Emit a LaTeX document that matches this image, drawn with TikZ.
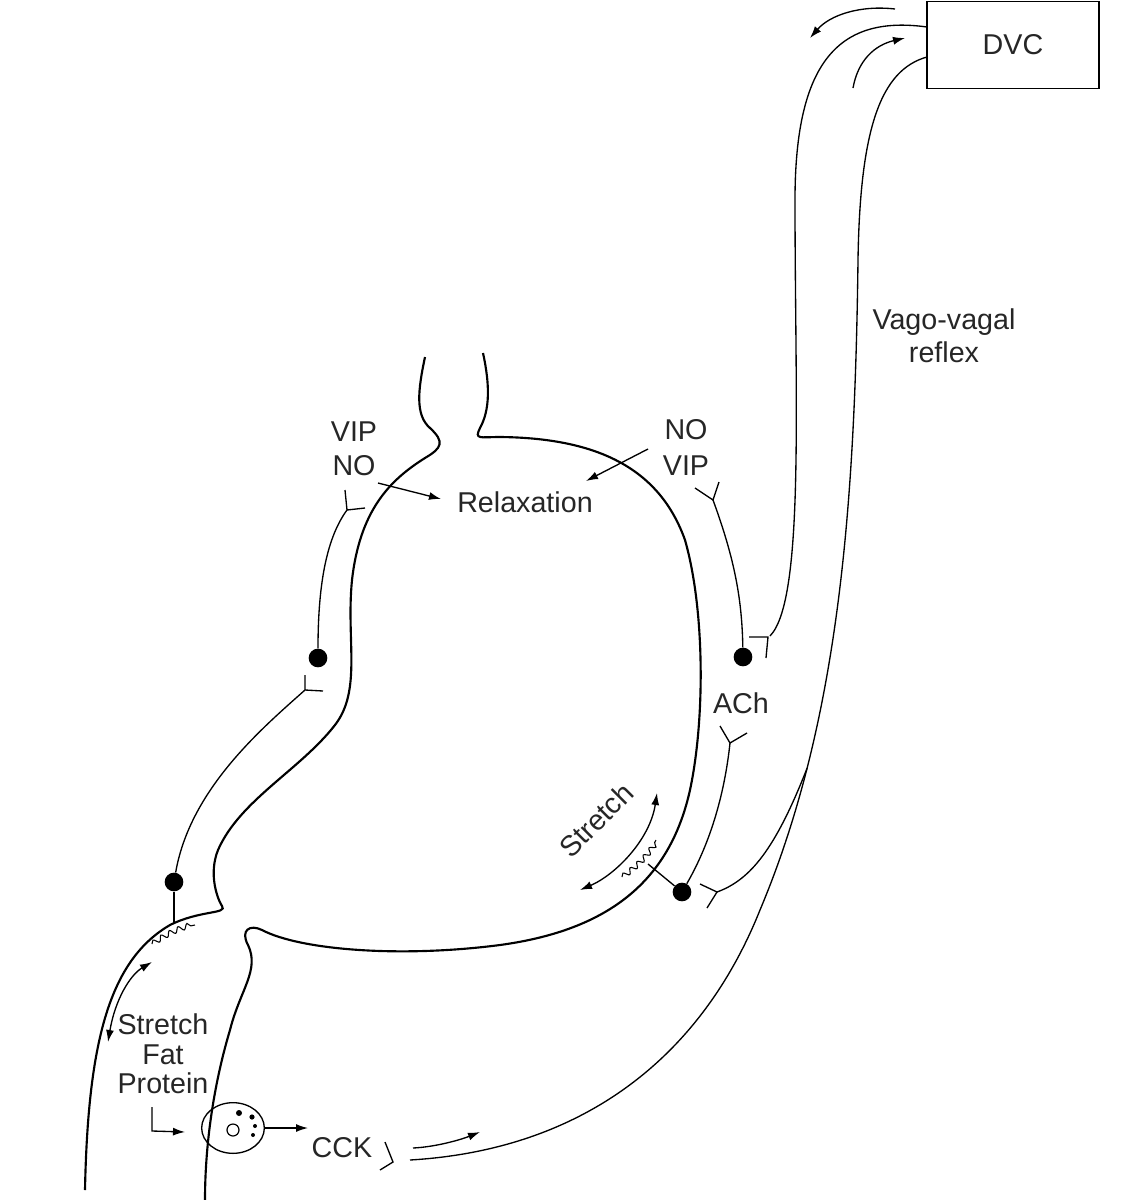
\documentclass[tikz,border=0pt]{standalone}
\usepackage{fontspec}
\setmainfont{Liberation Sans}
\usetikzlibrary{arrows.meta,decorations.pathmorphing,shapes.geometric}
\begin{document}
\begin{tikzpicture}[x=0.75pt,y=-0.75pt,
  wall/.style={line width=1.6pt},
  nerve/.style={line width=1pt},
  arr/.style={line width=1pt,-{Latex[length=9pt,width=6pt]}},
  darr/.style={line width=1pt,{Latex[length=9pt,width=6pt]}-{Latex[length=9pt,width=6pt]}},
  dot/.style={circle,fill=black,inner sep=0pt,minimum size=14pt},
  lbl/.style={font=\fontsize{21.5}{25}\selectfont,text=black!85,align=center,inner sep=1pt},
  sq/.style={line width=0.8pt,decorate,decoration={snake,amplitude=2pt,segment length=7pt}}]
\useasboundingbox (0,0) rectangle (1132,1200);
% stomach walls
\draw[wall] (425,357) .. controls (418,390) and (415,415) .. (430,428) .. controls (445,442) and (442,448) .. (425,458)
  .. controls (390,480) and (360,510) .. (352,580) .. controls (346,640) and (362,690) .. (335,725)
  .. controls (300,770) and (240,800) .. (218,850) .. controls (208,875) and (218,900) .. (222,906)
  .. controls (228,914) and (200,910) .. (170,925) .. controls (110,960) and (88,1040) .. (85,1190);
\draw[wall] (483,353) .. controls (490,385) and (490,410) .. (480,428) .. controls (474,440) and (480,437) .. (500,437)
  .. controls (600,438) and (660,470) .. (685,540) .. controls (705,610) and (705,720) .. (690,790)
  .. controls (670,880) and (610,930) .. (500,945) .. controls (400,958) and (300,950) .. (262,930)
  .. controls (250,924) and (240,930) .. (248,945) .. controls (260,970) and (240,990) .. (230,1030)
  .. controls (215,1080) and (205,1140) .. (205,1200);
% DVC
\node[draw,line width=1pt,minimum width=129pt,minimum height=65pt,lbl] (dvc) at (1013,45) {DVC};
\coordinate (e1) at (927,27); \coordinate (e2) at (927,57);
% vagal efferent
\draw[nerve] (e1) .. controls (840,15) and (795,60) .. (795,200) .. controls (795,400) and (805,600) .. (770,636) coordinate (ve);
\draw[nerve] (749,637) -- (768,637) -- (766,658);
% vagal afferent
\draw[nerve] (e2) .. controls (880,70) and (860,130) .. (858,260) .. controls (855,500) and (840,720) .. (760,910) coordinate[pos=0.76] (m)
  .. controls (700,1060) and (580,1150) .. (410,1160);
\draw[nerve] (380,1170) -- (393,1162) -- (385,1142);
% afferent from stomach
\draw[nerve] (717,892) .. controls (750,880) and (775,850) .. (m);
\draw[nerve] (700,884) -- (717,892) -- (707,908);
% arrows near DVC
\draw[arr] (895,9) .. controls (860,5) and (830,15) .. (810,38);
\draw[arr] (853,88) .. controls (858,60) and (875,45) .. (905,38);
% left nerve
\node[dot] (d1) at (318,658) {};
\node[dot] (d2) at (174,882) {};
\draw[nerve] (d1) .. controls (318,590) and (325,540) .. (347,510);
\draw[nerve] (345,490) -- (347,510) -- (365,508);
\draw[nerve] (305,690) .. controls (260,730) and (190,790) .. (d2);
\draw[nerve] (305,675) -- (305,690) -- (323,691);
\draw[nerve] (d2) -- (174,923);
\draw[sq] (152,944) .. controls (165,935) and (180,928) .. (195,925);
\draw[darr] (108,1042) .. controls (115,1000) and (130,975) .. (152,962);
% right nerves
\node[dot] (d3) at (743,657) {};
\node[dot] (d4) at (682,892) {};
\draw[nerve] (d3) .. controls (742,600) and (735,560) .. (713,500);
\draw[nerve] (695,488) -- (713,500) -- (719,482);
\draw[nerve] (d4) .. controls (712,840) and (725,790) .. (730,743);
\draw[nerve] (720,726) -- (730,743) -- (747,733);
\draw[nerve] (d4) -- (648,864);
\draw[sq] (622,877) .. controls (635,868) and (648,855) .. (656,840);
\draw[darr] (580,890) .. controls (615,875) and (650,840) .. (657,793);
\node[lbl,rotate=45] (st2) at (596,820) {Stretch};
% labels
\node[lbl] (vip1) at (354,432) {VIP};
\node[lbl] (no1) at (354,466) {NO};
\node[lbl] (rel) at (525,502) {Relaxation};
\node[lbl] (no2) at (686,430) {NO};
\node[lbl] (vip2) at (686,466) {VIP};
\node[lbl] (ach) at (741,703) {ACh};
\node[lbl] (vv) at (944,336) {Vago-vagal\\reflex};
\draw[arr] (378,483) -- (441,499);
\draw[arr] (648,449) -- (586,481);
% duodenum
\node[lbl] (sfp) at (163,1054) {Stretch\\[-3pt]Fat\\[-3pt]Protein};
\draw[arr] (152,1107) -- (152,1131) -- (185,1132);
\node[draw,ellipse,line width=1pt,minimum width=47pt,minimum height=38pt,inner sep=0pt] (cell) at (233,1128) {};
\draw[line width=0.9pt] (233,1130) circle (6);
\fill (239,1113) circle (3) (252,1117) circle (2.6) (255,1126) circle (2) (253,1135) circle (2);
\node[lbl] (cck) at (342,1148) {CCK};
\draw[arr] (cell.east) -- (308,1128);
\draw[arr] (413,1148) .. controls (435,1147) and (460,1140) .. (480,1132);
\end{tikzpicture}
\end{document}
